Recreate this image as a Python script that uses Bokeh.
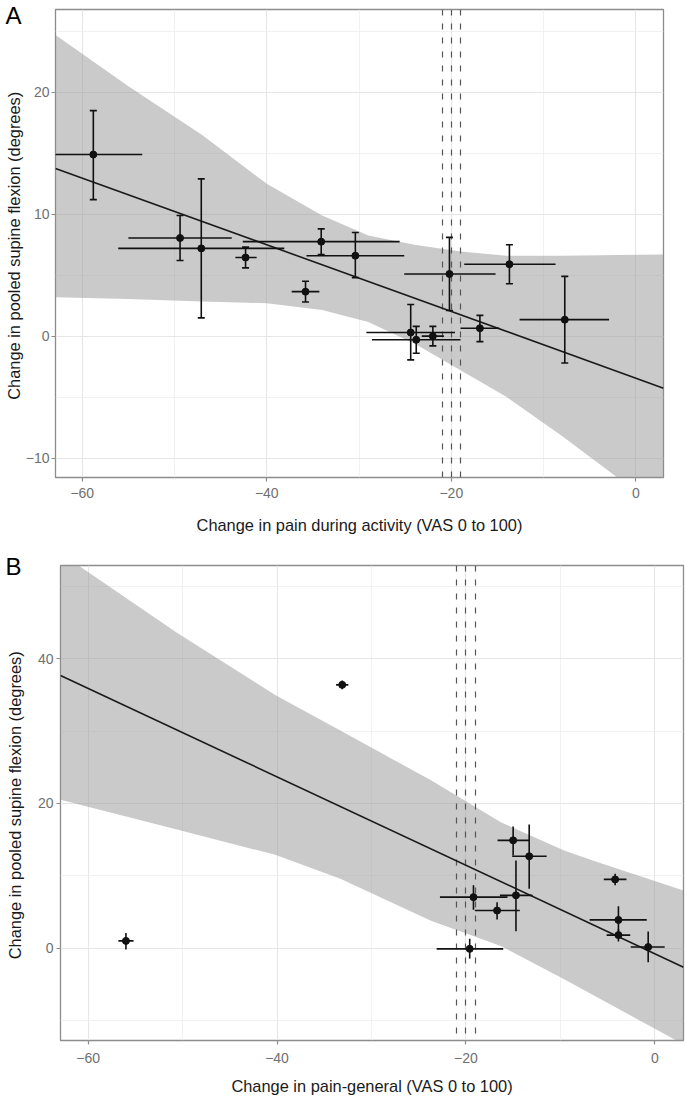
from bokeh.plotting import figure
from bokeh.layouts import column
from bokeh.models import Range1d, FixedTicker, Whisker, TeeHead, ColumnDataSource, Title
from bokeh.embed import file_html
from bokeh.resources import INLINE

FONT = "Liberation Sans"

# ---------------- Panel A data ----------------
a_x = [-58.8, -49.4, -47.1, -42.3, -35.8, -34.1, -30.4, -20.2, -13.7, -7.7, -16.9, -24.4, -23.8, -22.0]
a_y = [14.9, 8.05, 7.2, 6.45, 3.65, 7.75, 6.6, 5.1, 5.9, 1.35, 0.65, 0.3, -0.3, 0.0]
a_xlo = [-64.1, -55.0, -56.1, -43.4, -37.3, -42.6, -35.7, -25.1, -18.6, -12.6, -19.0, -29.2, -28.6, -23.2]
a_xhi = [-53.5, -43.8, -38.1, -41.1, -34.3, -25.6, -25.1, -15.2, -8.7, -2.9, -14.8, -19.6, -19.0, -20.8]
a_ylo = [11.2, 6.2, 1.5, 5.6, 2.8, 6.7, 4.8, 2.1, 4.3, -2.2, -0.45, -1.95, -1.4, -0.8]
a_yhi = [18.5, 9.9, 12.9, 7.3, 4.5, 8.8, 8.5, 8.1, 7.5, 4.9, 1.7, 2.6, 0.8, 0.8]

a_fit_x = [-62.9, 3.0]
a_fit_y = [13.76, -4.27]
a_band_x = [-62.9, -55, -47, -40, -34, -29, -24, -19, -14, -8, -2, 3.0]
a_band_hi = [24.7, 20.5, 16.5, 12.5, 9.9, 8.25, 7.5, 6.95, 6.6, 6.6, 6.65, 6.7]
a_band_lo = [3.2, 3.05, 2.85, 2.7, 2.15, 1.15, -0.6, -2.8, -5.0, -8.2, -11.6, -14.6]

# ---------------- Panel B data ----------------
b_x = [-33.1, -56.0, -15.0, -13.3, -4.2, -19.2, -14.7, -16.7, -19.6, -3.85, -3.85, -0.7]
b_y = [36.4, 1.0, 14.9, 12.7, 9.5, 7.05, 7.3, 5.2, -0.1, 3.9, 1.8, 0.15]
b_xlo = [-33.75, -56.8, -16.65, -15.1, -5.4, -22.75, -16.4, -19.05, -23.1, -6.9, -5.1, -2.55]
b_xhi = [-32.45, -55.2, -13.3, -11.45, -3.0, -15.6, -12.95, -14.3, -16.05, -0.85, -2.6, 1.05]
b_ylo = [35.8, -0.2, 12.8, 8.2, 8.7, 5.3, 2.35, 3.95, -1.45, 2.0, 0.9, -1.95]
b_yhi = [37.0, 2.1, 16.8, 17.1, 10.3, 8.7, 12.1, 6.35, 1.3, 5.8, 2.6, 2.3]

b_fit_x = [-62.93, 3.04]
b_fit_y = [37.7, -2.63]
b_band_x = [-62.93, -50.6, -40.2, -33.3, -23.7, -16.3, -9.6, -6.1, 3.04]
b_band_hi = [54.6, 43.6, 35.0, 30.1, 23.2, 17.4, 13.5, 11.9, 7.98]
b_band_lo = [20.5, 16.4, 12.9, 9.6, 3.8, 0.3, -4.3, -6.8, -13.3]

mcid = [-21, -20, -19]

x_ticks = [-60, -40, -20, 0]
x_minor = [-50, -30, -10]
a_y_ticks = [-10, 0, 10, 20]
a_y_minor = [-5, 5, 15, 25]
b_y_ticks = [0, 20, 40]
b_y_minor = [-10, 10, 30, 50]

Y_TITLE = "Change in pooled supine  flexion (degrees)"
A_X_TITLE = "Change in pain during activity (VAS 0 to 100)"
B_X_TITLE = "Change in pain-general (VAS 0 to 100)"


def make_panel(letter, xs, ys, xlo, xhi, ylo, yhi, fit_x, fit_y, band_x, band_hi, band_lo,
               xr, yr, yticks, yminor, xtitle, width, height, borders, caps,
               ytitle_standoff, ylab_standoff, xlab_standoff, xtitle_standoff,
               letter_offset, letter_standoff):
    left, right, top, bottom = borders
    p = figure(width=width, height=height, x_range=Range1d(*xr), y_range=Range1d(*yr),
               output_backend="svg", toolbar_location=None,
               min_border_left=left, min_border_right=right,
               min_border_top=top, min_border_bottom=bottom)
    p.background_fill_color = "white"
    p.border_fill_color = "white"
    p.outline_line_color = "#8C8C8C"
    p.outline_line_width = 1.3

    xt = FixedTicker(ticks=x_ticks, minor_ticks=x_minor)
    yt = FixedTicker(ticks=yticks, minor_ticks=yminor)
    p.xaxis.ticker = xt
    p.yaxis.ticker = yt
    p.xgrid.ticker = xt
    p.ygrid.ticker = yt
    for g in (p.xgrid, p.ygrid):
        g.grid_line_color = "#E6E6E6"
        g.grid_line_width = 1.1
        g.minor_grid_line_color = "#EEEEEE"
        g.minor_grid_line_width = 0.8

    for ax in (p.xaxis, p.yaxis):
        ax.axis_line_color = None
        ax.major_tick_line_color = "#8C8C8C"
        ax.major_tick_line_width = 1.2
        ax.major_tick_out = 4
        ax.major_tick_in = 0
        ax.minor_tick_line_color = None
        ax.major_label_text_font = FONT
        ax.major_label_text_font_size = "14px"
        ax.major_label_text_color = "#707070"
        ax.axis_label_text_font = FONT
        ax.axis_label_text_font_size = "16.4px"
        ax.axis_label_text_font_style = "normal"
        ax.axis_label_text_color = "#1A1A1A"
    p.xaxis.major_label_standoff = xlab_standoff
    p.xaxis.axis_label_standoff = xtitle_standoff
    p.yaxis.major_label_standoff = ylab_standoff
    p.yaxis.axis_label_standoff = ytitle_standoff
    p.xaxis.axis_label = xtitle
    p.yaxis.axis_label = Y_TITLE

    # confidence band and fit
    p.varea(x=band_x, y1=band_lo, y2=band_hi, fill_color="#999999", fill_alpha=0.52)
    p.vspan(x=mcid, line_color="#555555", line_width=1.2, line_dash="6 8")
    p.line(fit_x, fit_y, line_color="#1A1A1A", line_width=1.6)

    src = ColumnDataSource(dict(x=xs, y=ys, xlo=xlo, xhi=xhi, ylo=ylo, yhi=yhi))
    p.segment(x0="xlo", y0="y", x1="xhi", y1="y", source=src, line_color="#111111", line_width=1.6)
    if caps:
        w = Whisker(source=src, base="x", lower="ylo", upper="yhi", dimension="height",
                    line_color="#111111", line_width=1.6, level="glyph",
                    upper_head=TeeHead(size=7, line_color="#111111", line_width=1.6),
                    lower_head=TeeHead(size=7, line_color="#111111", line_width=1.6))
        p.add_layout(w)
    else:
        p.segment(x0="x", y0="ylo", x1="x", y1="yhi", source=src, line_color="#111111", line_width=1.6)
    p.scatter(x="x", y="y", source=src, size=7, fill_color="#111111", line_color="#111111")

    t = Title(text=letter, align="left", vertical_align="bottom", offset=letter_offset,
              standoff=letter_standoff, text_font=FONT, text_font_size="24px",
              text_font_style="normal", text_color="black")
    p.add_layout(t, "above")
    return p


pA = make_panel("A", a_x, a_y, a_xlo, a_xhi, a_ylo, a_yhi, a_fit_x, a_fit_y,
                a_band_x, a_band_hi, a_band_lo,
                (-62.9, 3.0), (-11.6, 26.8), a_y_ticks, a_y_minor, A_X_TITLE,
                685, 540, (55, 22, 9, 63), True, 0, 2, 6, 15, -50, -38)
pB = make_panel("B", b_x, b_y, b_xlo, b_xhi, b_ylo, b_yhi, b_fit_x, b_fit_y,
                b_band_x, b_band_hi, b_band_lo,
                (-62.93, 3.04), (-12.77, 52.9), b_y_ticks, b_y_minor, B_X_TITLE,
                685, 558, (60, 2, 25, 58), False, 11, 3, 8, 11, -55, -29)

layout = column(column(pA), column(pB), spacing=0)
open("out.html", "w").write(file_html(layout, INLINE))
